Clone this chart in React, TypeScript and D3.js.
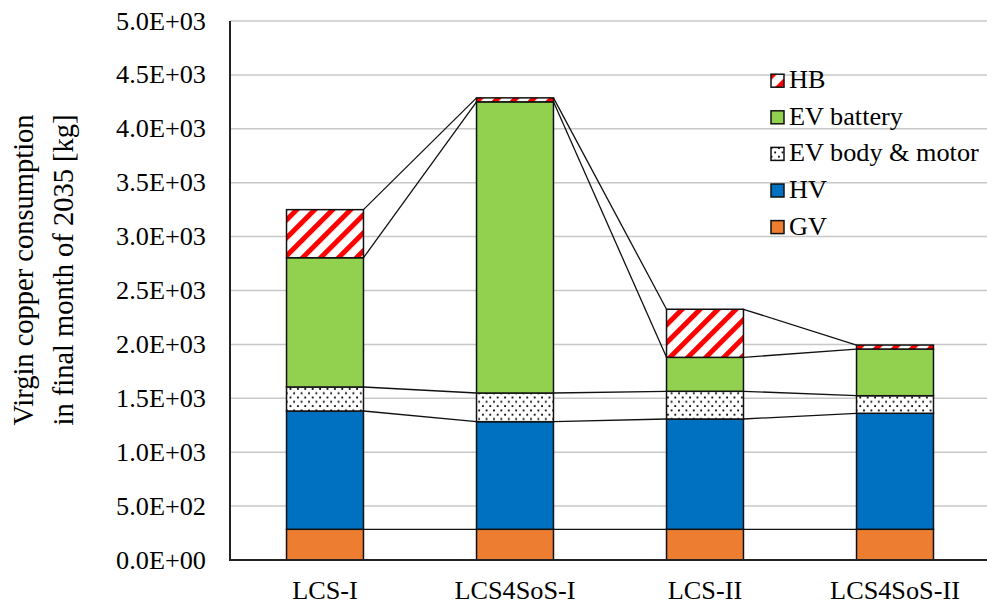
import React from "react";
import * as d3 from "d3";

// Scenario categories and copper consumption per vehicle source [kg]
const categories = ["LCS-I", "LCS4SoS-I", "LCS-II", "LCS4SoS-II"];
const gvValues = [285, 285, 285, 285];
const hvValues = [1097, 998, 1023, 1076];
const evBodyMotorValues = [223, 266, 257, 163];
const evBatteryValues = [1199, 2701, 315, 433];
const hbValues = [446, 37, 446, 37];

const seriesKeys = ["GV", "HV", "EV body & motor", "EV battery", "HB"];
const yTicks = [0, 500, 1000, 1500, 2000, 2500, 3000, 3500, 4000, 4500, 5000];

const W = 987;
const H = 605;
const SX = 1.05; // horizontal glyph stretch
const FONT = '"Liberation Serif", "Times New Roman", serif';

const fills: Record<string, string> = {
  GV: "#ED7D31",
  HV: "#0070C0",
  "EV body & motor": "url(#dots)",
  "EV battery": "#92D050",
  HB: "url(#redHatch)",
};

function sci(v: number): string {
  if (v === 0) return "0.0E+00";
  const e = Math.floor(Math.log10(v));
  const m = v / Math.pow(10, e);
  const es = (e < 0 ? "-" : "+") + String(Math.abs(e)).padStart(2, "0");
  return `${m.toFixed(1)}E${es}`;
}

function SText(props: {
  x: number;
  y: number;
  anchor?: string;
  size: number;
  rotate?: number;
  children: React.ReactNode;
}) {
  const { x, y, anchor = "start", size, rotate = 0, children } = props;
  return (
    <text
      transform={`translate(${x},${y}) scale(${SX},1)${rotate ? ` rotate(${rotate})` : ""}`}
      textAnchor={anchor}
      fontFamily={FONT}
      fontSize={size}
      fill="#000"
    >
      {children}
    </text>
  );
}

export default function App() {
  const rows = categories.map((c, i) => ({
    category: c,
    GV: gvValues[i],
    HV: hvValues[i],
    "EV body & motor": evBodyMotorValues[i],
    "EV battery": evBatteryValues[i],
    HB: hbValues[i],
  }));

  const stacked = d3.stack<any>().keys(seriesKeys)(rows);

  const x = d3
    .scaleBand<string>()
    .domain(categories)
    .range([230, 990])
    .paddingInner(0.595)
    .paddingOuter(0.2975);
  const y = d3.scaleLinear().domain([0, 5000]).range([560, 21]);
  const bw = x.bandwidth();

  const legendItems = ["HB", "EV battery", "EV body & motor", "HV", "GV"];

  return (
    <svg
      width={W}
      height={H}
      style={{ position: "absolute", left: 0, top: 0, background: "#fff" }}
    >
      <defs>
        <pattern
          id="redHatch"
          patternUnits="userSpaceOnUse"
          width={12.7}
          height={12.7}
          patternTransform="rotate(45)"
        >
          <rect width={12.7} height={12.7} fill="#fff" />
          <rect x={0} y={0} width={5} height={12.7} fill="#FF0000" />
        </pattern>
        <pattern id="dots" patternUnits="userSpaceOnUse" width={7.4} height={8.6}>
          <rect width={7.4} height={8.6} fill="#fff" />
          <rect x={1} y={1} width={1.8} height={1.8} fill="#000" />
          <rect x={4.7} y={5.3} width={1.8} height={1.8} fill="#000" />
        </pattern>
      </defs>

      {/* horizontal gridlines */}
      {yTicks
        .filter((t) => t > 0)
        .map((t) => (
          <line
            key={`g${t}`}
            x1={230}
            x2={990}
            y1={y(t)}
            y2={y(t)}
            stroke="#C8C8C8"
            strokeWidth={1.5}
          />
        ))}

      {/* stacked bars */}
      {stacked.map((layer) =>
        layer.map((d, i) => (
          <rect
            key={`${layer.key}-${i}`}
            x={x(categories[i])!}
            y={y(d[1])}
            width={bw}
            height={y(d[0]) - y(d[1])}
            fill={fills[layer.key]}
            stroke="#111"
            strokeWidth={1.5}
          />
        ))
      )}

      {/* series lines joining segment tops of neighbouring bars */}
      {stacked.map((layer) =>
        layer.slice(0, -1).map((d, i) => (
          <line
            key={`s-${layer.key}-${i}`}
            x1={x(categories[i])! + bw}
            y1={y(d[1])}
            x2={x(categories[i + 1])!}
            y2={y(layer[i + 1][1])}
            stroke="#111"
            strokeWidth={1.3}
          />
        ))
      )}

      {/* axes */}
      <line x1={230} x2={230} y1={y(5000)} y2={y(0)} stroke="#222" strokeWidth={2} />
      <line x1={229} x2={990} y1={y(0)} y2={y(0)} stroke="#222" strokeWidth={2} />

      {yTicks.map((t) => (
        <SText key={`t${t}`} x={206} y={y(t) + 8.5} anchor="end" size={25}>
          {sci(t)}
        </SText>
      ))}

      {categories.map((c) => (
        <SText key={c} x={x(c)! + bw / 2} y={599} anchor="middle" size={25}>
          {c}
        </SText>
      ))}

      {/* y-axis title */}
      <SText x={33} y={270} anchor="middle" size={28.5} rotate={-90}>
        Virgin copper consumption
      </SText>
      <SText x={73} y={270} anchor="middle" size={28.5} rotate={-90}>
        in final month of 2035 [kg]
      </SText>

      {/* legend */}
      {legendItems.map((k, i) => {
        const cy = 80.7 + i * 36.6;
        return (
          <g key={`l${k}`}>
            <rect
              x={771}
              y={cy - 6.5}
              width={13}
              height={13}
              fill={fills[k]}
              stroke="#111"
              strokeWidth={1.5}
            />
            <SText x={789} y={cy + 7.5} size={25}>
              {k}
            </SText>
          </g>
        );
      })}
    </svg>
  );
}
